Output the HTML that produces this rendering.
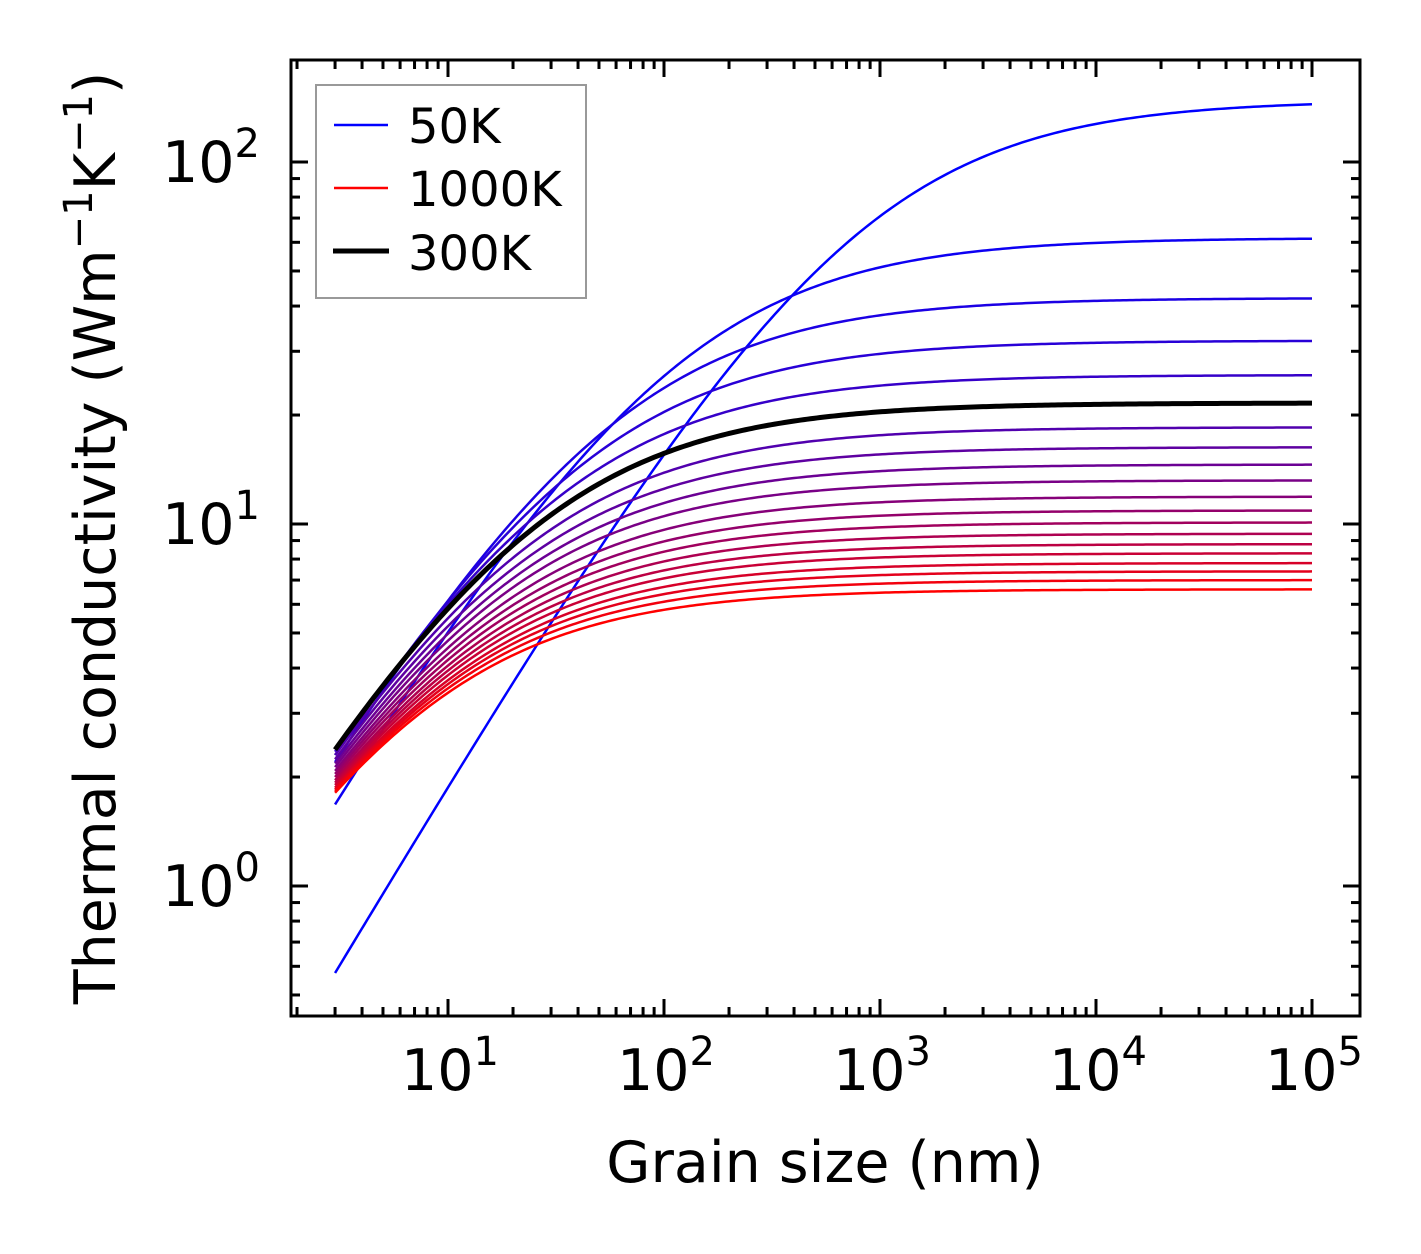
<!DOCTYPE html>
<html><head><meta charset="utf-8"><style>
html,body{margin:0;padding:0;background:#fff;}
svg{display:block;font-family:"DejaVu Sans","Liberation Sans",sans-serif;}
</style></head><body>
<svg id="chart" width="1421" height="1254" viewBox="0 0 1421 1254" xmlns="http://www.w3.org/2000/svg">
<g id="curves"></g>
<g id="ticks"></g>
<rect x="291" y="60" width="1069" height="956" fill="none" stroke="#000" stroke-width="3"/>
<text x="825" y="1182" font-size="57" text-anchor="middle">Grain size (nm)</text>
<text transform="translate(115,538) rotate(-90)" font-size="57" text-anchor="middle">Thermal conductivity (Wm<tspan dy="-23" font-size="40">−1</tspan><tspan dy="23">K</tspan><tspan dy="-23" font-size="40">−1</tspan><tspan dy="23">)</tspan></text>
<g>
<rect x="316" y="85" width="270" height="213" fill="#fff" stroke="#999" stroke-width="2"/>
<line x1="334" y1="125" x2="388" y2="125" stroke="#0000ff" stroke-width="2.5"/>
<text x="408" y="143" font-size="48">50K</text>
<line x1="334" y1="188" x2="388" y2="188" stroke="#ff0000" stroke-width="2.5"/>
<text x="408" y="206" font-size="48">1000K</text>
<line x1="333" y1="251" x2="389" y2="251" stroke="#000" stroke-width="5"/>
<text x="408" y="270" font-size="48">300K</text>
</g>
</svg>
<script>
const temperatures = [50,100,150,200,250,300,350,400,450,500,550,600,650,700,750,800,850,900,950,1000];
const kBulk = [148,61.7,42.1,32.1,25.8,21.6,18.5,16.3,14.6,13.2,11.9,10.9,10.1,9.4,8.8,8.3,7.8,7.4,7.0,6.6];
const kAt3nm = [0.575,1.68,2.2,2.3,2.35,2.38,2.30,2.24,2.18,2.13,2.08,2.04,2.00,1.96,1.93,1.90,1.87,1.85,1.83,1.81];
const xTickExps = [1,2,3,4,5];
const yTickExps = [0,1,2];

const NS = "http://www.w3.org/2000/svg";
const L=291,R=1360,T=60,B=1016;
const P = 0.8;
const xScale = v => 448 + (Math.log10(v)-1)*216;
const yScale = v => 524 - (Math.log10(v)-1)*362;

const cg = document.getElementById('curves');
const order = temperatures.map((t,i)=>i).filter(i=>temperatures[i]!==300);
order.push(temperatures.indexOf(300));
order.forEach(i=>{
  const t = temperatures[i];
  const kinf = kBulk[i], k3 = kAt3nm[i];
  const Lc = 3*Math.pow(Math.pow(kinf/k3,P)-1,1/P);
  let d = "";
  for(let j=0;j<=300;j++){
    const lx = Math.log10(3) + j*(5-Math.log10(3))/300;
    const g = Math.pow(10,lx);
    const k = kinf*Math.pow(1+Math.pow(Lc/g,P),-1/P);
    d += (j?"L":"M")+xScale(g).toFixed(2)+","+yScale(k).toFixed(2);
  }
  const p = document.createElementNS(NS,'path');
  
  
  const f = (t-50)/950;
  const col = t===300 ? '#000' : `rgb(${Math.round(255*f)},0,${Math.round(255*(1-f))})`;
  p.setAttribute('d',d);p.setAttribute('fill','none');p.setAttribute('stroke',col);
  p.setAttribute('stroke-width', t===300?5:2.5);
  cg.appendChild(p);
});

const tg = document.getElementById('ticks');
function line(x1,y1,x2,y2){
  const l=document.createElementNS(NS,'line');
  
  
  l.setAttribute('x1',x1);l.setAttribute('y1',y1);l.setAttribute('x2',x2);l.setAttribute('y2',y2);
  l.setAttribute('stroke','#000');l.setAttribute('stroke-width',3);tg.appendChild(l);
}
function label(x,y,exp,anchor){
  const t=document.createElementNS(NS,'text');
  
  
  t.setAttribute('x',x);t.setAttribute('y',y);t.setAttribute('font-size',57);t.setAttribute('text-anchor',anchor);
  t.innerHTML = '10<tspan dy="-25" font-size="40">'+exp+'</tspan>';
  tg.appendChild(t);
}
for(let e=0;e<=5;e++){
  for(let m=1;m<10;m++){
    const x = xScale(m*Math.pow(10,e));
    if(x<L+1||x>R-1) continue;
    const len = m===1?17:9;
    line(x,B,x,B-len); line(x,T,x,T+len);
  }
}
for(let e=-1;e<=2;e++){
  for(let m=1;m<10;m++){
    const y = yScale(m*Math.pow(10,e));
    if(y<T+1||y>B-1) continue;
    const len = m===1?17:9;
    line(L,y,L+len,y); line(R,y,R-len,y);
  }
}
xTickExps.forEach(e=>label(xScale(Math.pow(10,e))+2,1090,e,'middle'));
yTickExps.forEach(e=>label(260,yScale(Math.pow(10,e))+20,e,'end'));
</script>
</body></html>
